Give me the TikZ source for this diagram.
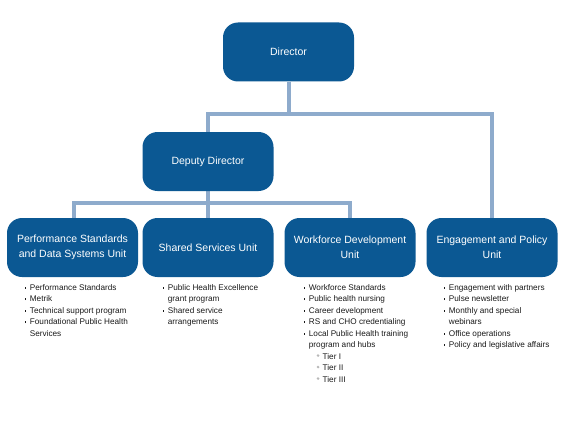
\documentclass[tikz,border=0pt]{standalone}
\usepackage{fontspec}
\setmainfont{Liberation Sans}
\usetikzlibrary{backgrounds}
\definecolor{boxblue}{HTML}{0B5893}
\definecolor{linkblue}{HTML}{8EABCC}
\definecolor{tiergray}{HTML}{B8B8B8}
\newcommand{\bul}{\makebox[5.2pt][l]{\raisebox{1.6pt}{\rule{1.6pt}{1.6pt}}}}
\newcommand{\tbul}{\hspace*{13pt}\makebox[6pt][l]{\textcolor{tiergray}{\raisebox{2.2pt}{\tikz\fill (0,0) circle (1.4pt);}}}}
\newcommand{\cont}{\hspace*{5.2pt}}
\begin{document}
\begin{tikzpicture}[x=1pt,y=-1pt,
  orgbox/.style={fill=boxblue, draw=none, rounded corners=15pt, minimum width=131pt,
    minimum height=59pt, text=white, align=center, inner sep=2pt,
    font=\fontsize{10.5}{15}\selectfont},
  link/.style={draw=linkblue, line width=3.5pt},
  itemlist/.style={anchor=north west, align=left, inner sep=0pt,
    font=\fontsize{8.2}{11.5}\selectfont, text=black!90}]
\useasboundingbox (0,0) rectangle (565,436);

\node[orgbox] (dir) at (288.5,52) {Director};
\node[orgbox] (dep) at (208,161.5) {Deputy Director};
\node[orgbox] (perf) at (72.5,247.5) {Performance Standards\\and Data Systems Unit};
\node[orgbox] (shared) at (208,247.5) {Shared Services Unit};
\node[orgbox] (work) at (350,247.5) {Workforce Development\\Unit};
\node[orgbox] (eng) at (492,247.5) {Engagement and Policy\\Unit};

\coordinate (j1) at (289,114);
\coordinate (j2) at (208,203);
\coordinate (pt) at (74,230);

\begin{scope}[on background layer]
\draw[link] (dir.south -| j1) -- (j1);
\draw[link, line cap=rect] (dep.north) |- (j1) -| (eng.north);
\draw[link] (dep.south) -- (j2);
\draw[link, line cap=rect] (pt) |- (j2) -| (work.north);
\draw[link] (j2) -- (shared.north);
\end{scope}

\node[itemlist] (perflist) at (24.5,284) {\bul Performance Standards\\ \bul Metrik\\ \bul Technical support program\\ \bul Foundational Public Health\\ \cont Services};
\node[itemlist] (sharedlist) at (162.5,284) {\bul Public Health Excellence\\ \cont grant program\\ \bul Shared service\\ \cont arrangements};
\node[itemlist] (worklist) at (303.5,284) {\bul Workforce Standards\\ \bul Public health nursing\\ \bul Career development\\ \bul RS and CHO credentialing\\ \bul Local Public Health training\\ \cont program and hubs\\ \tbul Tier I\\ \tbul Tier II\\ \tbul Tier III};
\node[itemlist] (englist) at (443.5,284) {\bul Engagement with partners\\ \bul Pulse newsletter\\ \bul Monthly and special\\ \cont webinars\\ \bul Office operations\\ \bul Policy and legislative affairs};
\end{tikzpicture}
\end{document}
